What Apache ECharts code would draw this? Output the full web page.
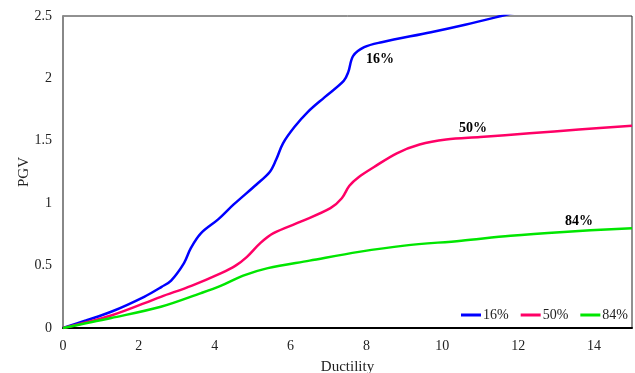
<!DOCTYPE html>
<html>
<head>
    <meta charset="UTF-8">
    <title>PGV - Ductility</title>
    <script src="https://cdn.jsdelivr.net/npm/echarts@6/dist/echarts.min.js"></script>
    <style>
        body { margin: 0; padding: 0; background: #fff; }
        #main { width: 635px; height: 373px; }
    </style>
</head>
<body>
<div id="main"></div>
<script>
    // curves: [ductility, PGV]
    var p16 = [[0, 0], [0.6, 0.06], [1.27, 0.13], [2.14, 0.25], [2.6, 0.33], [2.85, 0.38], [3.19, 0.52],
        [3.37, 0.64], [3.64, 0.76], [4.09, 0.87], [4.5, 0.99], [5.1, 1.15], [5.45, 1.25], [5.62, 1.35],
        [5.8, 1.48], [6.1, 1.61], [6.45, 1.73], [6.9, 1.85], [7.4, 1.98], [7.52, 2.05], [7.65, 2.18],
        [7.94, 2.25], [8.4, 2.29], [9.7, 2.37], [10.6, 2.43], [11.55, 2.5], [12.2, 2.55]];
    var p50 = [[0, 0], [1.27, 0.10], [2.58, 0.25], [3.4, 0.34], [4.17, 0.44], [4.55, 0.50], [4.85, 0.57],
        [5.2, 0.68], [5.55, 0.76], [6.25, 0.85], [7.05, 0.96], [7.35, 1.04], [7.55, 1.14], [7.8, 1.21],
        [8.2, 1.29], [8.8, 1.40], [9.4, 1.47], [10.1, 1.51], [11.0, 1.53], [12.3, 1.56], [13.6, 1.59], [15, 1.62]];
    var p84 = [[0, 0], [1.27, 0.08], [2.58, 0.17], [3.64, 0.28], [4.17, 0.34], [4.75, 0.42], [5.4, 0.48],
        [6.5, 0.54], [7.8, 0.61], [9.0, 0.66], [10.5, 0.70], [11.8, 0.74], [13.2, 0.77], [15, 0.80]];
    var names = ['16%', '50%', '84%'];
    var colors = ['#0000ff', '#ff0066', '#00e600'];
    var labelAt = [[8.36, 2.155], [10.81, 1.60], [13.6, 0.857]];

    var chart = echarts.init(document.getElementById('main'), null, {renderer: 'canvas'});
    var font = 'Liberation Serif';

    function makeSeries(i, data) {
        return {
            name: names[i],
            type: 'line',
            data: data,
            smooth: 0.35,
            showSymbol: false,
            symbol: 'none',
            lineStyle: {color: colors[i], width: 2.5},
            itemStyle: {color: colors[i]},
            markPoint: {
                symbol: 'circle',
                symbolSize: 1,
                itemStyle: {opacity: 0},
                label: {
                    show: true,
                    position: 'inside',
                    formatter: names[i],
                    fontFamily: font,
                    fontWeight: 'bold',
                    fontSize: 14,
                    color: '#000',
                    opacity: 1
                },
                data: [{coord: labelAt[i], label: {opacity: 1}}]
            }
        };
    }

    var option = {
        animation: false,
        grid: {
            left: 63, right: 3, top: 16, bottom: 45,
            containLabel: false,
            outerBoundsMode: 'none',
            show: true, borderColor: '#222', borderWidth: 1
        },
        legend: {
            data: names,
            right: 2,
            top: 303,
            icon: 'rect',
            itemWidth: 20,
            itemHeight: 3,
            itemGap: 12,
            textStyle: {fontFamily: font, fontSize: 14, color: '#222', padding: [0, 0, 0, -3]}
        },
        xAxis: {
            type: 'value',
            min: 0, max: 15, interval: 2,
            name: 'Ductility',
            nameLocation: 'middle',
            nameGap: 32,
            nameMoveOverlap: false,
            nameTextStyle: {fontFamily: font, fontSize: 15, color: '#222'},
            axisLine: {show: true, lineStyle: {color: '#000', width: 2}},
            axisTick: {show: false},
            splitLine: {show: false},
            axisLabel: {fontFamily: font, fontSize: 14, color: '#222', margin: 11, showMaxLabel: false}
        },
        yAxis: {
            type: 'value',
            min: 0, max: 2.5, interval: 0.5,
            name: 'PGV',
            nameLocation: 'middle',
            nameGap: 31,
            nameMoveOverlap: false,
            nameTextStyle: {fontFamily: font, fontSize: 15, color: '#222'},
            axisLine: {show: true, lineStyle: {color: '#888', width: 2}},
            axisTick: {show: false},
            splitLine: {show: false},
            axisLabel: {fontFamily: font, fontSize: 14, color: '#222', margin: 11}
        },
        series: [makeSeries(0, p16), makeSeries(1, p50), makeSeries(2, p84)]
    };
    chart.setOption(option);
</script>
</body>
</html>
